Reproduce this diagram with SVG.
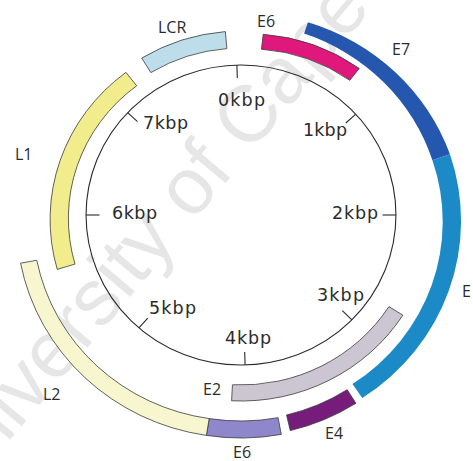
<svg xmlns="http://www.w3.org/2000/svg" width="473" height="461" viewBox="0 0 473 461">
  <style>
    .lbl { font-family: "Open Sans", "DejaVu Sans", sans-serif; font-size: 16px; fill: #2b2b2b; }
    .kbp { font-family: "DejaVu Sans", "Open Sans", sans-serif; font-size: 17.5px; fill: #2b2b2b; }
    .wm { font-family: "Liberation Sans", Arial, sans-serif; font-size: 80px; fill: #e6e6e6; }
    .edge { stroke: #3a3a3a; stroke-width: 0.8; vector-effect: non-scaling-stroke; stroke-linejoin: round; }
    .plain { stroke: none; }
    .scale { fill: none; stroke: #2a2a2a; stroke-width: 1.1; vector-effect: non-scaling-stroke; }
  </style>

  <rect width="473" height="461" fill="#ffffff"/>

  <!-- background watermark -->
  <text class="wm" transform="translate(-47.6 508.6) rotate(-50)">University of Cape Town</text>

  <!-- genome scale: circle and kbp ticks -->
  <g id="scale">
    <g transform="translate(241 215) scale(1.033 1)">
      <circle class="scale" cx="0" cy="0" r="150"/>
    </g>
    <g class="scale">
      <line x1="236.9" y1="65.1" x2="237.3" y2="78.1"/>
      <line x1="355.8" y1="114.2" x2="345.8" y2="123.0"/>
      <line x1="396" y1="215" x2="382.5" y2="215"/>
      <line x1="351.9" y1="319.8" x2="342.3" y2="310.7"/>
      <line x1="245.1" y1="364.9" x2="244.7" y2="352.0"/>
      <line x1="138.9" y1="327.9" x2="147.8" y2="318.1"/>
      <line x1="86" y1="215" x2="99.5" y2="215"/>
      <line x1="127.7" y1="112.7" x2="137.5" y2="121.6"/>
    </g>
    <text class="kbp" x="218" y="106" textLength="47">0kbp</text>
    <text class="kbp" x="303" y="136" textLength="44">1kbp</text>
    <text class="kbp" x="332" y="219" textLength="46">2kbp</text>
    <text class="kbp" x="317" y="301" textLength="47">3kbp</text>
    <text class="kbp" x="225" y="344" textLength="46">4kbp</text>
    <text class="kbp" x="149" y="314" textLength="47">5kbp</text>
    <text class="kbp" x="112" y="219" textLength="45">6kbp</text>
    <text class="kbp" x="143" y="129" textLength="45">7kbp</text>
  </g>

  <!-- inner ring of genes -->
  <g transform="translate(241 215) scale(1.033 1)">
    <g id="lcr">
      <path class="edge" fill="#bcdde9" d="M -96.1 -156.9 A 184 184 0 0 1 -15.1 -183.4 L -13.7 -166.4 A 167 167 0 0 0 -87.3 -142.4 Z"/>
    </g>
    <g id="e6-early">
      <path class="edge" fill="#e0187c" stroke="#6a1a45" d="M 21.5 -180.7 A 184 184 0 0 1 114.5 -146.6 L 105.3 -134.7 A 169 169 0 0 0 19.8 -165.8 Z"/>
    </g>
    <g id="l1">
      <path class="edge" fill="#f2ed8c" d="M -177.9 54.4 A 184 184 0 0 1 -111.4 -142.6 L -101.0 -129.2 A 166 166 0 0 0 -160.7 49.1 Z"/>
    </g>
    <g id="e2">
      <path class="edge" fill="#cbc6d2" d="M 156.7 100.2 A 186 186 0 0 1 -9.1 185.8 L -8.3 169.8 A 170 170 0 0 0 143.2 91.6 Z"/>
    </g>
  </g>

  <!-- outer ring of genes -->
  <g transform="translate(241 224) scale(1.033 1)">
    <g id="e7">
      <path class="plain" fill="#2557ae" d="M 64.8 -201.8 A 213 213 0 0 1 202.3 -69.7 L 185.3 -63.8 A 198 198 0 0 0 61.1 -190.4 Z"/>
    </g>
    <g id="e">
      <path class="plain" fill="#1b8ac6" d="M 202.3 -69.7 A 212 212 0 0 1 117.4 174.1 L 107.9 160.0 A 194.5 194.5 0 0 0 185.3 -63.8 Z"/>
    </g>
    <g id="e4">
      <path class="edge" fill="#761c7a" d="M 111.2 179.3 A 211.5 211.5 0 0 1 47.7 206.6 L 44.1 191.0 A 195.5 195.5 0 0 0 102.8 165.7 Z"/>
    </g>
    <g id="e6-late">
      <path class="edge" fill="#8f87cc" d="M 39.0 210.4 A 214 214 0 0 1 -33.5 211.4 L -30.8 194.6 A 197 197 0 0 0 35.9 193.7 Z"/>
    </g>
    <g id="l2">
      <path class="edge" fill="#f7f6cf" d="M -33.5 211.4 A 215.5 215.5 0 0 1 -213.4 39.2 L -197.7 36.3 A 199 199 0 0 0 -30.8 194.6 Z"/>
    </g>
  </g>

  <!-- gene labels -->
  <g id="labels">
    <text class="lbl" x="158" y="33">LCR</text>
    <text class="lbl" x="257" y="27">E6</text>
    <text class="lbl" x="392" y="55">E7</text>
    <text class="lbl" x="15" y="160">L1</text>
    <text class="lbl" x="462" y="297">E</text>
    <text class="lbl" x="43" y="400">L2</text>
    <text class="lbl" x="203" y="395">E2</text>
    <text class="lbl" x="233" y="458">E6</text>
    <text class="lbl" x="325" y="439">E4</text>
  </g>
</svg>
